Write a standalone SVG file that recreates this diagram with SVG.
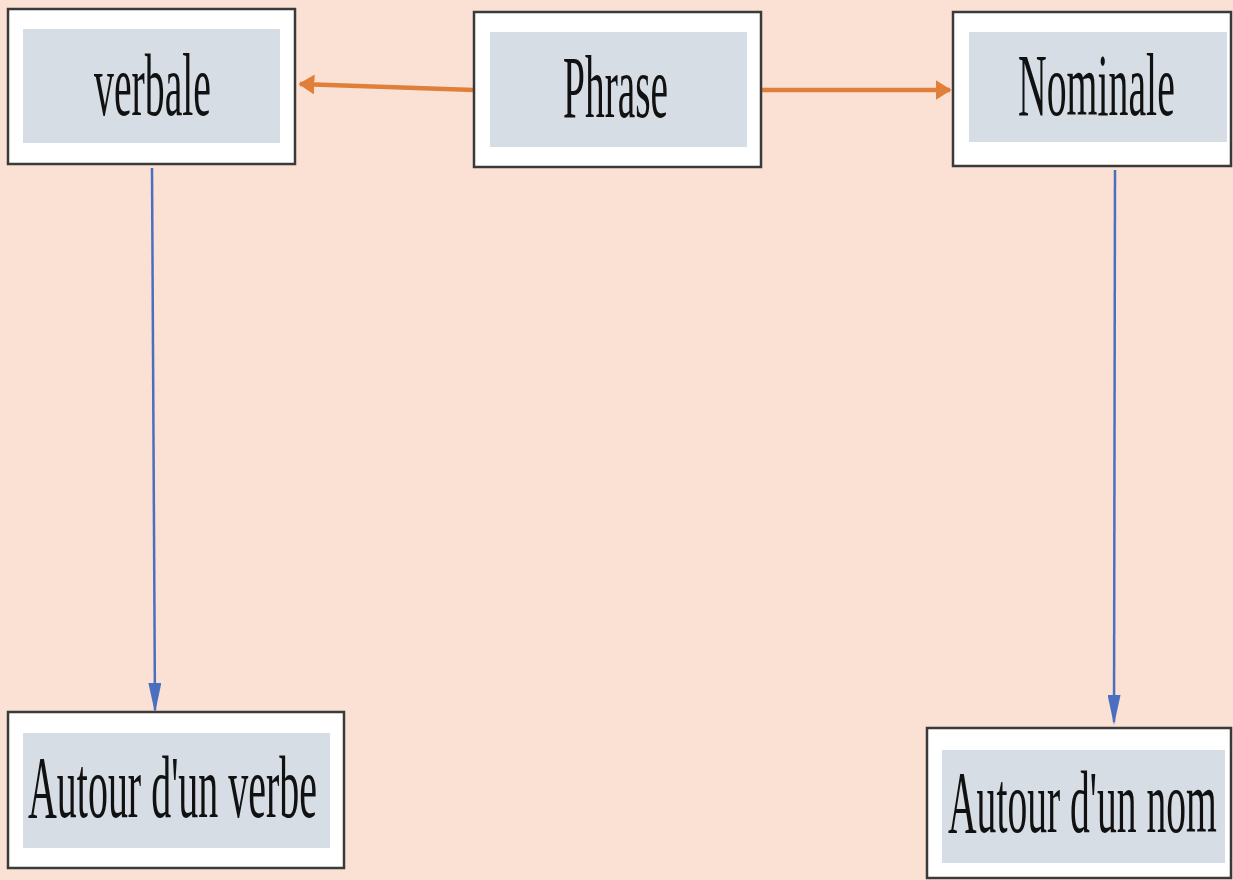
<svg xmlns="http://www.w3.org/2000/svg" width="1233" height="880" viewBox="0 0 1233 880">
<style>
.outer{fill:#ffffff;stroke:#3a3a3a;stroke-width:2.5}
.inner{fill:#d6dde5}
.lbl{font-family:"Liberation Serif","Times New Roman",serif;font-size:88px;fill:#111}
.or{stroke:#e07f3a;stroke-width:4.5;fill:none}
.bl{stroke:#4a6fc0;stroke-width:2.5;fill:none}
</style>
<defs>
<marker id="ho" viewBox="0 0 10 10" refX="9" refY="5" markerUnits="userSpaceOnUse" markerWidth="16" markerHeight="20" orient="auto" preserveAspectRatio="none"><path d="M0,0 L10,5 L0,10 Z" fill="#e07f3a"/></marker>
<marker id="hb" viewBox="0 0 10 10" refX="9" refY="5" markerUnits="userSpaceOnUse" markerWidth="30" markerHeight="13" orient="auto" preserveAspectRatio="none"><path d="M0,0 L10,5 L0,10 Z" fill="#4a6fc0"/></marker>
</defs>
<rect x="0" y="0" width="1233" height="880" fill="#fbe1d3"/>
<g id="connectors">
<line class="or" x1="474" y1="90" x2="300" y2="84" marker-end="url(#ho)"/>
<line class="or" x1="761" y1="90" x2="950" y2="90" marker-end="url(#ho)"/>
<line class="bl" x1="152" y1="168" x2="155" y2="710" marker-end="url(#hb)"/>
<line class="bl" x1="1115" y1="170" x2="1114" y2="722" marker-end="url(#hb)"/>
</g>
<g id="verbale">
<rect class="outer" x="8" y="9" width="287" height="155"/>
<rect class="inner" x="23" y="29" width="257" height="114"/>
<text class="lbl" transform="translate(94,115) scale(0.452,1)">verbale</text>
</g>
<g id="phrase">
<rect class="outer" x="474" y="12" width="287" height="155"/>
<rect class="inner" x="490" y="32" width="257" height="115"/>
<text class="lbl" transform="translate(563,117) scale(0.448,1)">Phrase</text>
</g>
<g id="nominale">
<rect class="outer" x="953" y="12" width="278" height="154"/>
<rect class="inner" x="969" y="32" width="258" height="110"/>
<text class="lbl" transform="translate(1018,115) scale(0.452,1)">Nominale</text>
</g>
<g id="autour-verbe">
<rect class="outer" x="8" y="712" width="336" height="156"/>
<rect class="inner" x="23" y="733" width="307" height="115"/>
<text class="lbl" transform="translate(28,817) scale(0.454,1)">Autour d'un verbe</text>
</g>
<g id="autour-nom">
<rect class="outer" x="927" y="728" width="304" height="150"/>
<rect class="inner" x="942" y="750" width="283" height="113"/>
<text class="lbl" transform="translate(948,832) scale(0.45,1)">Autour d'un nom</text>
</g>
</svg>
